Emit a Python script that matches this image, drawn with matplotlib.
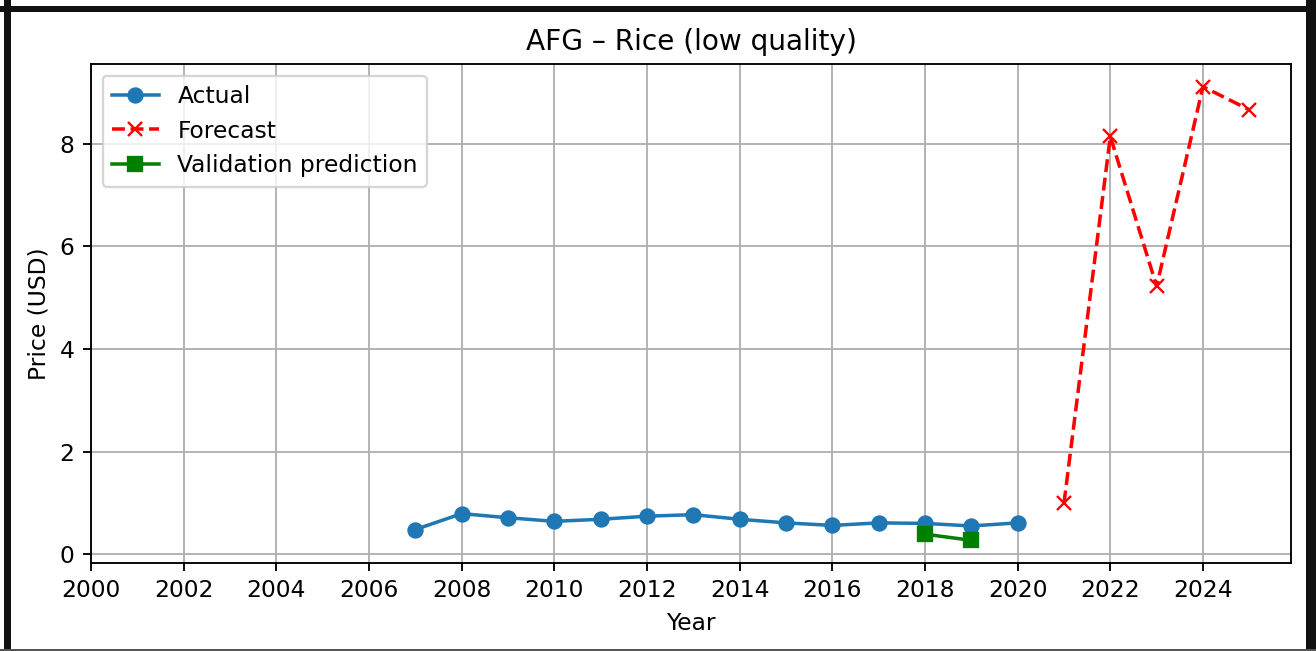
import matplotlib
matplotlib.use('Agg')
import matplotlib.pyplot as plt
from matplotlib.patches import Rectangle

# yearly prices (USD)
actual_years = [2007, 2008, 2009, 2010, 2011, 2012, 2013, 2014, 2015, 2016, 2017, 2018, 2019, 2020]
actual_price = [0.48, 0.79, 0.71, 0.64, 0.68, 0.74, 0.77, 0.68, 0.61, 0.56, 0.61, 0.60, 0.55, 0.61]

forecast_years = [2021, 2022, 2023, 2024, 2025]
forecast_price = [0.99, 8.14, 5.22, 9.11, 8.66]

val_years = [2018, 2019]
val_price = [0.39, 0.27]

W, H, DPI = 1316, 651, 168
fig = plt.figure(figsize=(W / DPI, H / DPI), dpi=DPI)
ax = fig.add_axes([91 / W, 88 / H, 1200 / W, 499 / H])

ax.plot(actual_years, actual_price, marker='o', label='Actual')
ax.plot(forecast_years, forecast_price, 'r--', marker='x', label='Forecast')
ax.plot(val_years, val_price, 'g-', marker='s', label='Validation prediction')

ax.set_xlim(left=2000)
ax.set_xticks(range(2000, 2025, 2))
ax.set_title('AFG \u2013 Rice (low quality)')
ax.set_xlabel('Year')
ax.set_ylabel('Price (USD)')
ax.legend(loc='upper left')
ax.grid(True)

# screenshot-style frame around the figure
frame = [
    ((4, 0), 7, H, '#111111'),
    ((0, H - 12), W, 6, '#111111'),
    ((1306, 0), 10, H, '#111111'),
    ((0, 0), W, 2, '#555555'),
]
for (x, y), w, h, c in frame:
    fig.patches.append(Rectangle((x / W, y / H), w / W, h / H, transform=fig.transFigure,
                                 facecolor=c, edgecolor='none', zorder=10))

fig.savefig('out.png', dpi=DPI)
